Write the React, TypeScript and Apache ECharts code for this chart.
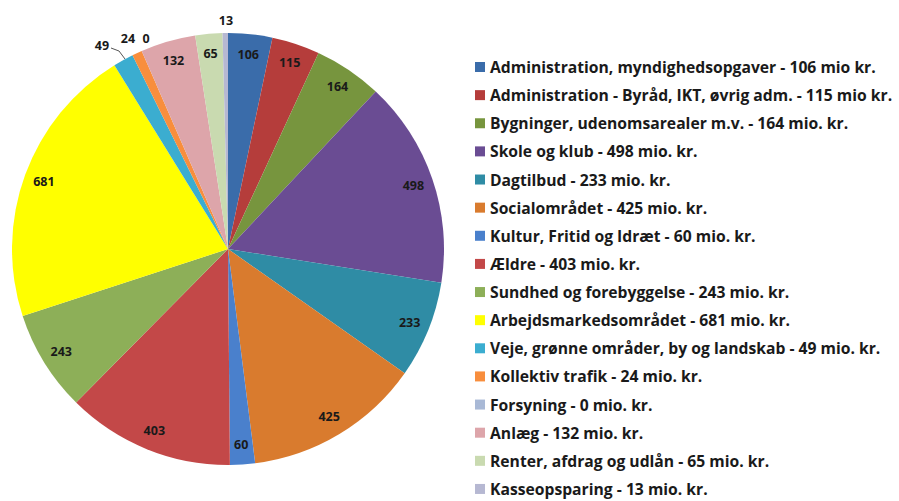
import React, { useEffect, useRef } from "react";
import * as echarts from "echarts";

const categories = [
  "Administration, myndighedsopgaver",
  "Administration - Byråd, IKT, øvrig adm.",
  "Bygninger, udenomsarealer m.v.",
  "Skole og klub",
  "Dagtilbud",
  "Socialområdet",
  "Kultur, Fritid og Idræt",
  "Ældre",
  "Sundhed og forebyggelse",
  "Arbejdsmarkedsområdet",
  "Veje, grønne områder, by og landskab",
  "Kollektiv trafik",
  "Forsyning",
  "Anlæg",
  "Renter, afdrag og udlån",
  "Kasseopsparing",
];
const values = [106, 115, 164, 498, 233, 425, 60, 403, 243, 681, 49, 24, 0, 132, 65, 13];
const units = [
  "mio kr.", "mio kr.", "mio. kr.", "mio. kr.", "mio. kr.", "mio. kr.", "mio. kr.", "mio. kr.",
  "mio. kr.", "mio. kr.", "mio. kr.", "mio. kr.", "mio. kr.", "mio. kr.", "mio. kr.", "mio. kr.",
];
const colors = [
  "#3A6CAA", "#B53D3B", "#77953E", "#6A4C93", "#2F8CA5", "#D97B2E", "#4A80CC", "#C34848",
  "#8DAF58", "#FFFF00", "#3BADD0", "#F88E3D", "#A9B9D6", "#DDA5AA", "#C9DAB0", "#B6B8D2",
];
const outsideLabels = [10, 11, 12, 15];

export default function App() {
  const ref = useRef<HTMLDivElement>(null);
  useEffect(() => {
    const chart = echarts.init(ref.current!, null, { renderer: "svg" });
    const data = categories.map((name, i) => ({
      name,
      value: values[i],
      itemStyle: { color: colors[i] },
    }));
    const overlay = categories.map((name, i) => {
      const out = outsideLabels.includes(i);
      return {
        name,
        value: values[i],
        itemStyle: { color: "rgba(0,0,0,0)" },
        label: out ? { position: "outside" } : { position: "inside" },
        labelLine: { show: i === 10, length: 8, length2: 4 },
      };
    });
    // Excel "best fit" placement of the small slices' labels (label anchor points)
    const placed: Record<number, any> = {
      10: { x: 102, y: 45, line: [[125, 59], [119, 51], [111, 48]] },
      11: { x: 128, y: 38 },
      12: { x: 146, y: 38 },
      15: { x: 226, y: 20 },
    };
    const labelFont = {
      fontFamily: "Open Sans",
      fontWeight: "bold",
      fontSize: 12.5,
      color: "#1a1a1a",
    };
    chart.setOption({
      animation: false,
      backgroundColor: "#ffffff",
      color: colors,
      legend: {
        orient: "vertical",
        left: 475,
        top: 58,
        height: 450,
        padding: 0,
        itemWidth: 10,
        itemHeight: 10,
        itemGap: 10.13,
        icon: "rect",
        data: categories,
        formatter: (name: string) => {
          const i = categories.indexOf(name);
          return `${name} - ${values[i]} ${units[i]}`;
        },
        textStyle: {
          fontFamily: "Open Sans",
          fontWeight: "bold",
          fontSize: 15.7,
          lineHeight: 18,
          color: "#1a1a1a",
        },
        selectedMode: false,
      },
      series: [
        {
          type: "pie",
          center: [228, 249],
          radius: [0, 216],
          startAngle: 90,
          clockwise: true,
          avoidLabelOverlap: false,
          label: { show: false },
          labelLine: { show: false },
          itemStyle: { borderWidth: 0 },
          silent: true,
          data,
        },
        {
          type: "pie",
          center: [228, 249],
          radius: [170, 216],
          startAngle: 90,
          clockwise: true,
          avoidLabelOverlap: false,
          silent: true,
          label: { show: true, formatter: "{c}", ...labelFont },
          labelLine: { show: false, lineStyle: { color: "#555", width: 1 } },
          itemStyle: { borderWidth: 0 },
          labelLayout: (params: any) => {
            const p = placed[params.dataIndex];
            if (!p) return {};
            const r: any = { x: p.x, y: p.y, align: "center", verticalAlign: "middle" };
            if (p.line) r.labelLinePoints = p.line;
            return r;
          },
          data: overlay,
        },
      ],
    });
    return () => chart.dispose();
  }, []);
  return (
    <div
      ref={ref}
      style={{ position: "fixed", left: 0, top: 0, width: 899, height: 501 }}
    />
  );
}
